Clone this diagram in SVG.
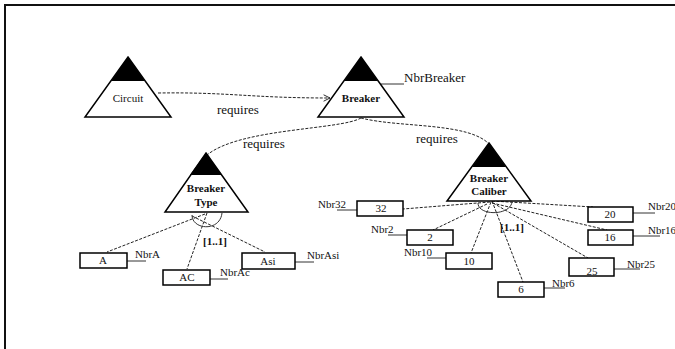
<svg xmlns="http://www.w3.org/2000/svg" width="675" height="349" viewBox="0 0 675 349">
<defs>
<style>
.t{font-family:"Liberation Serif","Times New Roman",serif;fill:#111}
.nd{font-size:11px;text-anchor:middle}
.b{font-weight:bold}
.lbl{font-size:13px}
.nbr{font-size:11px}
.tri{fill:#fff;stroke:#000;stroke-width:1.5}
.cap{fill:#000}
.box{fill:#fff;stroke:#000;stroke-width:1.5}
.dash{fill:none;stroke:#222;stroke-width:1;stroke-dasharray:3,1.5}
.solid{fill:none;stroke:#333;stroke-width:1}
</style>
<marker id="open" viewBox="0 0 10 10" refX="9" refY="5" markerWidth="8" markerHeight="8" orient="auto" markerUnits="userSpaceOnUse">
<path d="M1,1 L9,5 L1,9" fill="none" stroke="#222" stroke-width="1.2"/>
</marker>
</defs>
<rect width="675" height="349" fill="#fff"/>
<path d="M5,349 V5 H675" fill="none" stroke="#111" stroke-width="2"/>

<g id="connectors">
<path class="dash" d="M158,93 C230,92 250,98 330,98" marker-end="url(#open)"/>
<path class="dash" d="M361,118 C340,130 240,128 207,155"/>
<path class="dash" d="M361,118 C400,128 470,122 490,145"/>
<path class="solid" d="M381,84 H404"/>
<path class="dash" d="M205,214 L107,252"/>
<path class="dash" d="M207,213 L187,269"/>
<path class="dash" d="M192,216 L265,252"/>
<path class="solid" d="M192,215 C192,230 220,232 222,213"/>
<path class="solid" d="M127,261 H146"/>
<path class="solid" d="M210,279 H228"/>
<path class="solid" d="M295,262 H314"/>
<path class="dash" d="M490,202 L403,209"/>
<path class="dash" d="M487,204 L433,230"/>
<path class="dash" d="M491,202 L471,253"/>
<path class="dash" d="M492,201 L523,282"/>
<path class="dash" d="M493,203 L588,258"/>
<path class="dash" d="M492,203 L607,230"/>
<path class="dash" d="M492,201 L593,207"/>
<path class="solid" d="M478,203 C478,216 510,216 512,202"/>
<path class="solid" d="M337,210 H357"/>
<path class="solid" d="M388,235 H407"/>
<path class="solid" d="M427,258 H446"/>
<path class="solid" d="M544,288 H565"/>
<path class="solid" d="M614,269 H640"/>
<path class="solid" d="M633,236 H660"/>
<path class="solid" d="M633,213 H655"/>
<text class="t lbl" x="217" y="114">requires</text>
<text class="t lbl" x="243" y="148">requires</text>
<text class="t lbl" x="416" y="143">requires</text>
<text class="t nbr b" x="203" y="245">[1..1]</text>
<text class="t nbr b" x="500" y="231">[1..1]</text>
</g>

<g id="circuit">
<polygon class="tri" points="128,57 171,117 85,117"/>
<polygon class="cap" points="128,57 145,81 111,81"/>
<text class="t nd" x="128" y="102">Circuit</text>
</g>
<g id="breaker">
<polygon class="tri" points="361,57 404,117 318,117"/>
<polygon class="cap" points="361,57 378,81 344,81"/>
<text class="t nd b" x="361" y="102">Breaker</text>
<text class="t lbl" x="404" y="82">NbrBreaker</text>
</g>
<g id="breaker-type">
<polygon class="tri" points="206,153 248,212 165,212"/>
<polygon class="cap" points="206,153 222,175 190,175"/>
<text class="t nd b" x="206" y="192">Breaker</text>
<text class="t nd b" x="206" y="206">Type</text>
</g>
<g id="breaker-caliber">
<polygon class="tri" points="489,143 531,201 447,201"/>
<polygon class="cap" points="489,143 506,167 472,167"/>
<text class="t nd b" x="489" y="182">Breaker</text>
<text class="t nd b" x="489" y="195">Caliber</text>
</g>

<g id="A"><rect class="box" x="80" y="253" width="47" height="15"/><text class="t nd" x="103" y="264">A</text><text class="t nbr" x="135" y="258">NbrA</text></g>
<g id="AC"><rect class="box" x="163" y="270" width="47" height="15"/><text class="t nd" x="187" y="281">AC</text><text class="t nbr" x="220" y="276">NbrAc</text></g>
<g id="Asi"><rect class="box" x="242" y="253" width="53" height="16"/><text class="t nd" x="268" y="265">Asi</text><text class="t nbr" x="307" y="259">NbrAsi</text></g>

<g id="c32"><rect class="box" x="357" y="201" width="46" height="15"/><text class="t nd" x="381" y="212">32</text><text class="t nbr" x="318" y="208">Nbr32</text></g>
<g id="c2"><rect class="box" x="407" y="230" width="46" height="15"/><text class="t nd" x="430" y="241">2</text><text class="t nbr" x="371" y="233">Nbr2</text></g>
<g id="c10"><rect class="box" x="446" y="253" width="46" height="16"/><text class="t nd" x="469" y="265">10</text><text class="t nbr" x="404" y="256">Nbr10</text></g>
<g id="c6"><rect class="box" x="498" y="282" width="46" height="15"/><text class="t nd" x="521" y="293">6</text><text class="t nbr" x="552" y="287">Nbr6</text></g>
<g id="c25"><rect class="box" x="569" y="258" width="45" height="18"/><text class="t nd" x="592" y="275">25</text><text class="t nbr" x="627" y="268">Nbr25</text></g>
<g id="c16"><rect class="box" x="588" y="230" width="45" height="15"/><text class="t nd" x="610" y="241">16</text><text class="t nbr" x="648" y="234">Nbr16</text></g>
<g id="c20"><rect class="box" x="588" y="207" width="45" height="15"/><text class="t nd" x="610" y="218">20</text><text class="t nbr" x="648" y="210">Nbr20</text></g>
</svg>
